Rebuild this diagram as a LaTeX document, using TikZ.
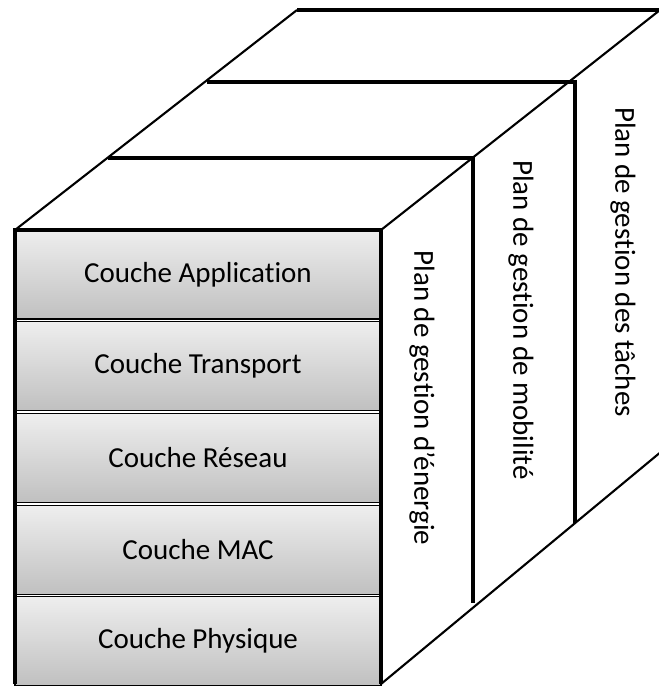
\documentclass[tikz,border=0pt]{standalone}
\usepackage{fontspec}
\setmainfont{Carlito}[Ligatures=NoCommon]
\definecolor{layertop}{RGB}{238,238,238}
\definecolor{layerbot}{RGB}{192,192,192}
\tikzset{
  layer/.style={rectangle, draw=black, line width=1.4pt, top color=layertop, bottom color=layerbot,
    minimum width=366pt, minimum height=89pt, inner sep=0pt, font=\fontsize{29}{34}\selectfont},
  plane/.style={rotate=-90, inner sep=0pt, font=\fontsize{29}{34}\selectfont},
  thickline/.style={line width=3.3pt},
  diagline/.style={line width=2.1pt}
}
\begin{document}
\begin{tikzpicture}[x=1pt,y=-1pt]
\useasboundingbox (0,0) rectangle (659,686);
% front layers
\node[layer] (app) at (198,274.5) {Couche Application};
\node[layer] (tra) at (198,366) {Couche Transport};
\node[layer] (res) at (198,458) {Couche Réseau};
\node[layer] (mac) at (198,550) {Couche MAC};
\node[layer] (phy) at (198,641) {Couche Physique};
% front outline
\coordinate (ftl) at (15,230);
\coordinate (ftr) at (381,230);
\coordinate (fbr) at (381,684);
\coordinate (fbl) at (15,684);
\draw[thickline] (fbl) -- (ftl) -- (ftr) -- (fbr);
% depth levels
\coordinate (l1) at (108,158);
\coordinate (r1) at (473,158);
\coordinate (b1) at (473,603);
\coordinate (l2) at (207,82);
\coordinate (r2) at (575,82);
\coordinate (b2) at (575,523);
\coordinate (l3) at (297,10);
\coordinate (r3) at (660,10);
\coordinate (b3) at (662,451);
\draw[diagline] (ftl) -- (l3);
\draw[diagline] (ftr) -- (r3);
\draw[diagline] (fbr) -- (b3);
\draw[thickline] (l1) -- (r1) -- (b1);
\draw[thickline] (l2) -- (r2) -- (b2);
\draw[thickline] (l3) -- (r3);
% side labels
\node[plane] (energie) at (422,398) {Plan de gestion d’énergie};
\node[plane] (mobil) at (521,320) {Plan de gestion de mobilité};
\node[plane] (taches) at (623,262) {Plan de gestion des tâches};
\end{tikzpicture}
\end{document}
